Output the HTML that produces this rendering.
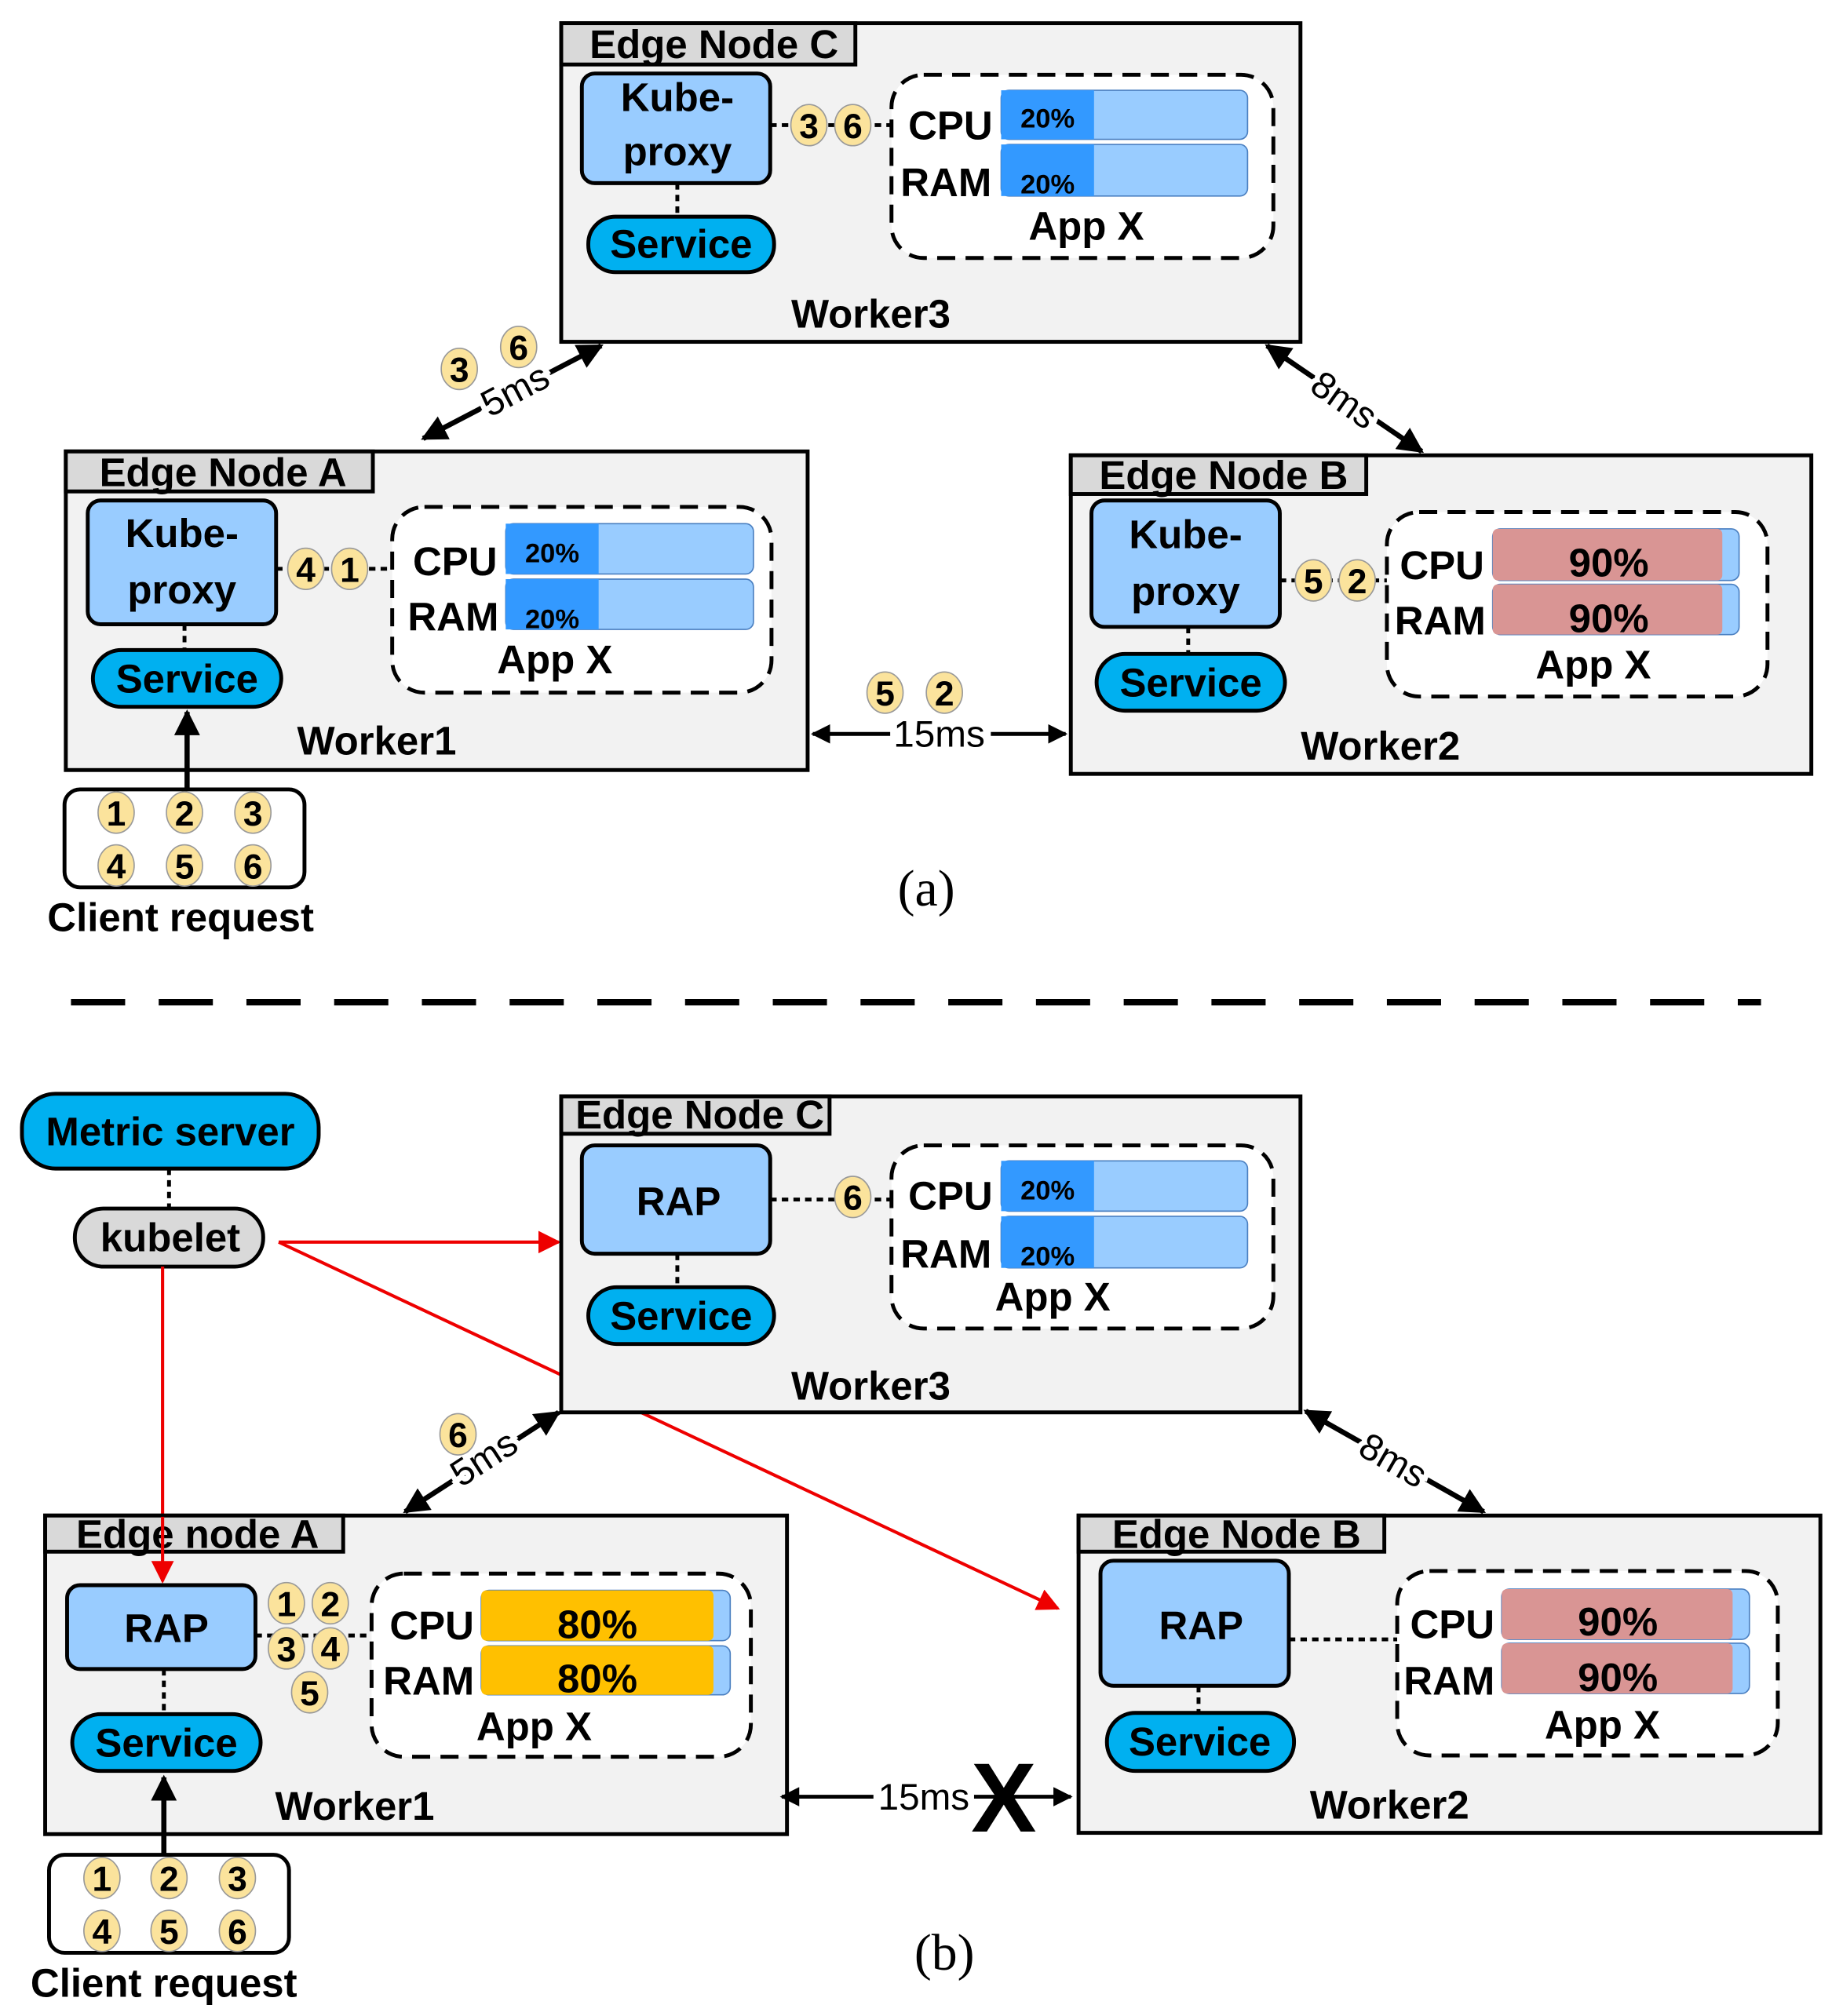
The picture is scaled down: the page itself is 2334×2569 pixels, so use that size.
<!DOCTYPE html>
<html><head><meta charset="utf-8"><style>
html,body{margin:0;padding:0;background:#fff}
svg{display:block}
text{font-family:"Liberation Sans Narrow","Liberation Sans",sans-serif;font-weight:bold;fill:#000}
.t{font-size:31px}
.s{font-size:21px}
.c{font-size:27px}
</style></head><body>
<svg width="2334" height="2569" viewBox="0 0 1420 1563" xmlns="http://www.w3.org/2000/svg">
<defs>
<marker id="ah" viewBox="0 0 10 10" refX="9" refY="5" markerWidth="5" markerHeight="5" orient="auto-start-reverse" markerUnits="strokeWidth"><path d="M0,0 L10,5 L0,10 z" fill="#000"/></marker>
<marker id="rh" viewBox="0 0 10 10" refX="9" refY="5" markerWidth="7" markerHeight="7" orient="auto" markerUnits="strokeWidth"><path d="M0,0 L10,5 L0,10 z" fill="#e00"/></marker>
<g id="n1"><ellipse rx="14" ry="16" fill="#fbe39c" stroke="#999" stroke-width="1"/></g>
</defs>

<!-- ===== (a) ===== -->
<!-- Worker3 -->
<rect x="435" y="18" width="573" height="247" fill="#f2f2f2" stroke="#000" stroke-width="3"/>
<rect x="435" y="18" width="228" height="32" fill="#d9d9d9" stroke="#000" stroke-width="3"/>
<text x="457" y="45" class="t">Edge Node C</text>
<rect x="451" y="57" width="146" height="85" rx="10" fill="#99ccff" stroke="#000" stroke-width="3"/>
<text x="525" y="86" class="t" text-anchor="middle">Kube-</text>
<text x="525" y="128" class="t" text-anchor="middle">proxy</text>
<line x1="525" y1="142" x2="525" y2="168" stroke="#000" stroke-width="3" stroke-dasharray="5,4"/>
<rect x="456" y="168" width="144" height="43" rx="21" fill="#00b0f0" stroke="#000" stroke-width="3"/>
<text x="528" y="200" class="t" text-anchor="middle">Service</text>
<line x1="597" y1="97" x2="690" y2="97" stroke="#000" stroke-width="3" stroke-dasharray="5,4"/>
<use href="#n1" x="627" y="97"/><text x="627" y="107" class="c" text-anchor="middle">3</text>
<use href="#n1" x="661" y="97"/><text x="661" y="107" class="c" text-anchor="middle">6</text>
<rect x="691" y="58" width="296" height="142" rx="25" fill="#fff" stroke="#000" stroke-width="3" stroke-dasharray="14,8"/>
<text x="704" y="108" class="t">CPU</text>
<rect x="776" y="70" width="191" height="38" rx="6" fill="#99ccff" stroke="#4a7fc0" stroke-width="1"/>
<rect x="776" y="70" width="72" height="38" fill="#3399ff"/>
<text x="812" y="99" class="s" text-anchor="middle">20%</text>
<text x="698" y="152" class="t">RAM</text>
<rect x="776" y="112" width="191" height="40" rx="6" fill="#99ccff" stroke="#4a7fc0" stroke-width="1"/>
<rect x="776" y="112" width="72" height="40" fill="#3399ff"/>
<text x="812" y="150" class="s" text-anchor="middle">20%</text>
<text x="842" y="186" class="t" text-anchor="middle">App X</text>
<text x="675" y="254" class="t" text-anchor="middle">Worker3</text>

<!-- Worker1 -->
<rect x="51" y="350" width="575" height="247" fill="#f2f2f2" stroke="#000" stroke-width="3"/>
<rect x="51" y="350" width="238" height="31" fill="#d9d9d9" stroke="#000" stroke-width="3"/>
<text x="77" y="377" class="t">Edge Node A</text>
<rect x="68" y="388" width="146" height="96" rx="10" fill="#99ccff" stroke="#000" stroke-width="3"/>
<text x="141" y="424" class="t" text-anchor="middle">Kube-</text>
<text x="141" y="468" class="t" text-anchor="middle">proxy</text>
<line x1="143" y1="484" x2="143" y2="504" stroke="#000" stroke-width="3" stroke-dasharray="5,4"/>
<rect x="72" y="504" width="146" height="44" rx="22" fill="#00b0f0" stroke="#000" stroke-width="3"/>
<text x="145" y="537" class="t" text-anchor="middle">Service</text>
<line x1="214" y1="441" x2="303" y2="441" stroke="#000" stroke-width="3" stroke-dasharray="5,4"/>
<use href="#n1" x="237" y="441"/><text x="237" y="451" class="c" text-anchor="middle">4</text>
<use href="#n1" x="271" y="441"/><text x="271" y="451" class="c" text-anchor="middle">1</text>
<rect x="304" y="393" width="294" height="144" rx="25" fill="#fff" stroke="#000" stroke-width="3" stroke-dasharray="14,8"/>
<text x="320" y="446" class="t">CPU</text>
<rect x="392" y="406" width="192" height="39" rx="6" fill="#99ccff" stroke="#4a7fc0" stroke-width="1"/>
<rect x="392" y="406" width="72" height="39" fill="#3399ff"/>
<text x="428" y="436" class="s" text-anchor="middle">20%</text>
<text x="316" y="489" class="t">RAM</text>
<rect x="392" y="449" width="192" height="39" rx="6" fill="#99ccff" stroke="#4a7fc0" stroke-width="1"/>
<rect x="392" y="449" width="72" height="39" fill="#3399ff"/>
<text x="428" y="487" class="s" text-anchor="middle">20%</text>
<text x="430" y="522" class="t" text-anchor="middle">App X</text>
<text x="292" y="585" class="t" text-anchor="middle">Worker1</text>

<!-- Worker2 -->
<rect x="830" y="353" width="574" height="247" fill="#f2f2f2" stroke="#000" stroke-width="3"/>
<rect x="830" y="353" width="229" height="30" fill="#d9d9d9" stroke="#000" stroke-width="3"/>
<text x="852" y="379" class="t">Edge Node B</text>
<rect x="846" y="388" width="146" height="98" rx="10" fill="#99ccff" stroke="#000" stroke-width="3"/>
<text x="919" y="425" class="t" text-anchor="middle">Kube-</text>
<text x="919" y="469" class="t" text-anchor="middle">proxy</text>
<line x1="921" y1="486" x2="921" y2="507" stroke="#000" stroke-width="3" stroke-dasharray="5,4"/>
<rect x="850" y="507" width="146" height="44" rx="22" fill="#00b0f0" stroke="#000" stroke-width="3"/>
<text x="923" y="540" class="t" text-anchor="middle">Service</text>
<line x1="992" y1="450" x2="1075" y2="450" stroke="#000" stroke-width="3" stroke-dasharray="5,4"/>
<use href="#n1" x="1018" y="450"/><text x="1018" y="460" class="c" text-anchor="middle">5</text>
<use href="#n1" x="1052" y="450"/><text x="1052" y="460" class="c" text-anchor="middle">2</text>
<rect x="1075" y="397" width="295" height="143" rx="25" fill="#fff" stroke="#000" stroke-width="3" stroke-dasharray="14,8"/>
<text x="1085" y="449" class="t">CPU</text>
<rect x="1157" y="410" width="191" height="40" rx="6" fill="#99ccff" stroke="#4a7fc0" stroke-width="1"/>
<rect x="1157" y="410" width="178" height="40" rx="4" fill="#d99594"/>
<text x="1247" y="447" class="t" text-anchor="middle">90%</text>
<text x="1081" y="492" class="t">RAM</text>
<rect x="1157" y="453" width="191" height="39" rx="6" fill="#99ccff" stroke="#4a7fc0" stroke-width="1"/>
<rect x="1157" y="453" width="178" height="39" rx="4" fill="#d99594"/>
<text x="1247" y="490" class="t" text-anchor="middle">90%</text>
<text x="1235" y="526" class="t" text-anchor="middle">App X</text>
<text x="1070" y="589" class="t" text-anchor="middle">Worker2</text>

<!-- links (a) -->
<line x1="630" y1="569" x2="826" y2="569" stroke="#000" stroke-width="3" marker-start="url(#ah)" marker-end="url(#ah)"/>
<rect x="690" y="555" width="78" height="28" fill="#fff"/>
<text x="728" y="579" font-size="29" style="font-weight:normal" text-anchor="middle">15ms</text>
<use href="#n1" x="686" y="537"/><text x="686" y="547" class="c" text-anchor="middle">5</text>
<use href="#n1" x="732" y="537"/><text x="732" y="547" class="c" text-anchor="middle">2</text>
<line x1="466" y1="268" x2="328" y2="340" stroke="#000" stroke-width="4" marker-start="url(#ah)" marker-end="url(#ah)"/>
<text x="400" y="312" font-size="29" style="font-weight:normal;stroke:#fff;stroke-width:8;paint-order:stroke" text-anchor="middle" transform="rotate(-28 400 304)">5ms</text>
<use href="#n1" x="356" y="286"/><text x="356" y="296" class="c" text-anchor="middle">3</text>
<use href="#n1" x="402" y="269"/><text x="402" y="279" class="c" text-anchor="middle">6</text>
<line x1="982" y1="268" x2="1102" y2="350" stroke="#000" stroke-width="4" marker-start="url(#ah)" marker-end="url(#ah)"/>
<text x="1042" y="320" font-size="29" style="font-weight:normal;stroke:#fff;stroke-width:8;paint-order:stroke" text-anchor="middle" transform="rotate(35 1042 310)">8ms</text>

<!-- client (a) -->
<line x1="145" y1="612" x2="145" y2="552" stroke="#000" stroke-width="4" marker-end="url(#ah)"/>
<rect x="50" y="612" width="186" height="76" rx="12" fill="#fff" stroke="#000" stroke-width="3"/>
<use href="#n1" x="90" y="630"/><text x="90" y="640" class="c" text-anchor="middle">1</text>
<use href="#n1" x="143" y="630"/><text x="143" y="640" class="c" text-anchor="middle">2</text>
<use href="#n1" x="196" y="630"/><text x="196" y="640" class="c" text-anchor="middle">3</text>
<use href="#n1" x="90" y="671"/><text x="90" y="681" class="c" text-anchor="middle">4</text>
<use href="#n1" x="143" y="671"/><text x="143" y="681" class="c" text-anchor="middle">5</text>
<use href="#n1" x="196" y="671"/><text x="196" y="681" class="c" text-anchor="middle">6</text>
<text x="140" y="722" class="t" text-anchor="middle">Client request</text>
<text x="718" y="702" font-size="40" style="font-family:'Liberation Serif',serif;font-weight:normal" text-anchor="middle">(a)</text>

<!-- separator -->
<line x1="55" y1="777" x2="1365" y2="777" stroke="#000" stroke-width="5" stroke-dasharray="42,26"/>

<!-- ===== (b) ===== -->
<!-- red lines behind -->
<line x1="216" y1="963" x2="820" y2="1247" stroke="#e00" stroke-width="2.5" marker-end="url(#rh)"/>

<rect x="17" y="848" width="230" height="58" rx="26" fill="#00b0f0" stroke="#000" stroke-width="3"/>
<text x="132" y="888" class="t" text-anchor="middle">Metric server</text>
<line x1="131" y1="906" x2="131" y2="937" stroke="#000" stroke-width="3" stroke-dasharray="5,4"/>
<rect x="58" y="937" width="146" height="45" rx="22" fill="#d9d9d9" stroke="#000" stroke-width="3"/>
<text x="132" y="970" class="t" text-anchor="middle">kubelet</text>
<line x1="216" y1="963" x2="433" y2="963" stroke="#e00" stroke-width="2.5" marker-end="url(#rh)"/>
<line x1="126" y1="982" x2="126" y2="1226" stroke="#e00" stroke-width="2.5" marker-end="url(#rh)"/>

<!-- Worker3 b -->
<rect x="435" y="850" width="573" height="245" fill="#f2f2f2" stroke="#000" stroke-width="3"/>
<rect x="435" y="850" width="208" height="29" fill="#d9d9d9" stroke="#000" stroke-width="3"/>
<text x="446" y="875" class="t">Edge Node C</text>
<rect x="451" y="888" width="146" height="84" rx="10" fill="#99ccff" stroke="#000" stroke-width="3"/>
<text x="526" y="942" class="t" text-anchor="middle">RAP</text>
<line x1="525" y1="972" x2="525" y2="998" stroke="#000" stroke-width="3" stroke-dasharray="5,4"/>
<rect x="456" y="998" width="144" height="44" rx="22" fill="#00b0f0" stroke="#000" stroke-width="3"/>
<text x="528" y="1031" class="t" text-anchor="middle">Service</text>
<line x1="597" y1="930" x2="690" y2="930" stroke="#000" stroke-width="3" stroke-dasharray="5,4"/>
<use href="#n1" x="661" y="928"/><text x="661" y="938" class="c" text-anchor="middle">6</text>
<rect x="691" y="888" width="296" height="142" rx="25" fill="#fff" stroke="#000" stroke-width="3" stroke-dasharray="14,8"/>
<text x="704" y="938" class="t">CPU</text>
<rect x="776" y="900" width="191" height="39" rx="6" fill="#99ccff" stroke="#4a7fc0" stroke-width="1"/>
<rect x="776" y="900" width="72" height="39" fill="#3399ff"/>
<text x="812" y="930" class="s" text-anchor="middle">20%</text>
<text x="698" y="983" class="t">RAM</text>
<rect x="776" y="943" width="191" height="40" rx="6" fill="#99ccff" stroke="#4a7fc0" stroke-width="1"/>
<rect x="776" y="943" width="72" height="40" fill="#3399ff"/>
<text x="812" y="981" class="s" text-anchor="middle">20%</text>
<text x="816" y="1016" class="t" text-anchor="middle">App X</text>
<text x="675" y="1085" class="t" text-anchor="middle">Worker3</text>

<!-- Worker1 b -->
<rect x="35" y="1175" width="575" height="247" fill="#f2f2f2" stroke="#000" stroke-width="3"/>
<rect x="35" y="1175" width="231" height="28" fill="#d9d9d9" stroke="#000" stroke-width="3"/>
<text x="59" y="1200" class="t">Edge node A</text>
<line x1="126" y1="1176" x2="126" y2="1226" stroke="#e00" stroke-width="2.5" marker-end="url(#rh)"/>
<rect x="52" y="1229" width="146" height="65" rx="10" fill="#99ccff" stroke="#000" stroke-width="3"/>
<text x="129" y="1273" class="t" text-anchor="middle">RAP</text>
<line x1="127" y1="1294" x2="127" y2="1329" stroke="#000" stroke-width="3" stroke-dasharray="5,4"/>
<rect x="56" y="1329" width="146" height="44" rx="22" fill="#00b0f0" stroke="#000" stroke-width="3"/>
<text x="129" y="1362" class="t" text-anchor="middle">Service</text>
<line x1="198" y1="1268" x2="288" y2="1268" stroke="#000" stroke-width="3" stroke-dasharray="5,4"/>
<use href="#n1" x="222" y="1243"/><text x="222" y="1253" class="c" text-anchor="middle">1</text>
<use href="#n1" x="256" y="1243"/><text x="256" y="1253" class="c" text-anchor="middle">2</text>
<use href="#n1" x="222" y="1278"/><text x="222" y="1288" class="c" text-anchor="middle">3</text>
<use href="#n1" x="256" y="1278"/><text x="256" y="1288" class="c" text-anchor="middle">4</text>
<use href="#n1" x="240" y="1312"/><text x="240" y="1322" class="c" text-anchor="middle">5</text>
<rect x="288" y="1220" width="294" height="142" rx="25" fill="#fff" stroke="#000" stroke-width="3" stroke-dasharray="14,8"/>
<text x="302" y="1271" class="t">CPU</text>
<rect x="373" y="1233" width="193" height="39" rx="6" fill="#99ccff" stroke="#4a7fc0" stroke-width="1"/>
<rect x="373" y="1233" width="180" height="39" rx="4" fill="#ffc000"/>
<text x="463" y="1270" class="t" text-anchor="middle">80%</text>
<text x="297" y="1314" class="t">RAM</text>
<rect x="373" y="1276" width="193" height="38" rx="6" fill="#99ccff" stroke="#4a7fc0" stroke-width="1"/>
<rect x="373" y="1276" width="180" height="38" rx="4" fill="#ffc000"/>
<text x="463" y="1312" class="t" text-anchor="middle">80%</text>
<text x="414" y="1349" class="t" text-anchor="middle">App X</text>
<text x="275" y="1411" class="t" text-anchor="middle">Worker1</text>

<!-- Worker2 b -->
<rect x="836" y="1175" width="575" height="246" fill="#f2f2f2" stroke="#000" stroke-width="3"/>
<rect x="836" y="1175" width="237" height="28" fill="#d9d9d9" stroke="#000" stroke-width="3"/>
<text x="862" y="1200" class="t">Edge Node B</text>
<rect x="853" y="1210" width="146" height="97" rx="10" fill="#99ccff" stroke="#000" stroke-width="3"/>
<text x="931" y="1271" class="t" text-anchor="middle">RAP</text>
<line x1="929" y1="1307" x2="929" y2="1328" stroke="#000" stroke-width="3" stroke-dasharray="5,4"/>
<rect x="858" y="1328" width="145" height="45" rx="22" fill="#00b0f0" stroke="#000" stroke-width="3"/>
<text x="930" y="1361" class="t" text-anchor="middle">Service</text>
<line x1="999" y1="1271" x2="1083" y2="1271" stroke="#000" stroke-width="3" stroke-dasharray="5,4"/>
<rect x="1083" y="1218" width="295" height="143" rx="25" fill="#fff" stroke="#000" stroke-width="3" stroke-dasharray="14,8"/>
<text x="1093" y="1270" class="t">CPU</text>
<rect x="1164" y="1232" width="192" height="39" rx="6" fill="#99ccff" stroke="#4a7fc0" stroke-width="1"/>
<rect x="1164" y="1232" width="179" height="39" rx="4" fill="#d99594"/>
<text x="1254" y="1268" class="t" text-anchor="middle">90%</text>
<text x="1088" y="1314" class="t">RAM</text>
<rect x="1164" y="1274" width="192" height="39" rx="6" fill="#99ccff" stroke="#4a7fc0" stroke-width="1"/>
<rect x="1164" y="1274" width="179" height="39" rx="4" fill="#d99594"/>
<text x="1254" y="1311" class="t" text-anchor="middle">90%</text>
<text x="1242" y="1348" class="t" text-anchor="middle">App X</text>
<text x="1077" y="1410" class="t" text-anchor="middle">Worker2</text>

<!-- links (b) -->
<line x1="606" y1="1393" x2="830" y2="1393" stroke="#000" stroke-width="3" marker-start="url(#ah)" marker-end="url(#ah)"/>
<rect x="677" y="1379" width="78" height="28" fill="#fff"/>
<text x="716" y="1403" font-size="29" style="font-weight:normal" text-anchor="middle">15ms</text>
<text x="778" y="1420" font-size="76" text-anchor="middle">X</text>
<line x1="433" y1="1095" x2="314" y2="1172" stroke="#000" stroke-width="4" marker-start="url(#ah)" marker-end="url(#ah)"/>
<text x="376" y="1140" font-size="29" style="font-weight:normal;stroke:#fff;stroke-width:8;paint-order:stroke" text-anchor="middle" transform="rotate(-33 376 1132)">5ms</text>
<use href="#n1" x="355" y="1112"/><text x="355" y="1122" class="c" text-anchor="middle">6</text>
<line x1="1012" y1="1094" x2="1150" y2="1172" stroke="#000" stroke-width="4" marker-start="url(#ah)" marker-end="url(#ah)"/>
<text x="1080" y="1142" font-size="29" style="font-weight:normal;stroke:#fff;stroke-width:8;paint-order:stroke" text-anchor="middle" transform="rotate(30 1080 1132)">8ms</text>

<!-- client (b) -->
<line x1="127" y1="1438" x2="127" y2="1378" stroke="#000" stroke-width="4" marker-end="url(#ah)"/>
<rect x="38" y="1438" width="186" height="76" rx="12" fill="#fff" stroke="#000" stroke-width="3"/>
<use href="#n1" x="79" y="1456"/><text x="79" y="1466" class="c" text-anchor="middle">1</text>
<use href="#n1" x="131" y="1456"/><text x="131" y="1466" class="c" text-anchor="middle">2</text>
<use href="#n1" x="184" y="1456"/><text x="184" y="1466" class="c" text-anchor="middle">3</text>
<use href="#n1" x="79" y="1497"/><text x="79" y="1507" class="c" text-anchor="middle">4</text>
<use href="#n1" x="131" y="1497"/><text x="131" y="1507" class="c" text-anchor="middle">5</text>
<use href="#n1" x="184" y="1497"/><text x="184" y="1507" class="c" text-anchor="middle">6</text>
<text x="127" y="1548" class="t" text-anchor="middle">Client request</text>
<text x="732" y="1527" font-size="40" style="font-family:'Liberation Serif',serif;font-weight:normal" text-anchor="middle">(b)</text>
</svg>
</body></html>
